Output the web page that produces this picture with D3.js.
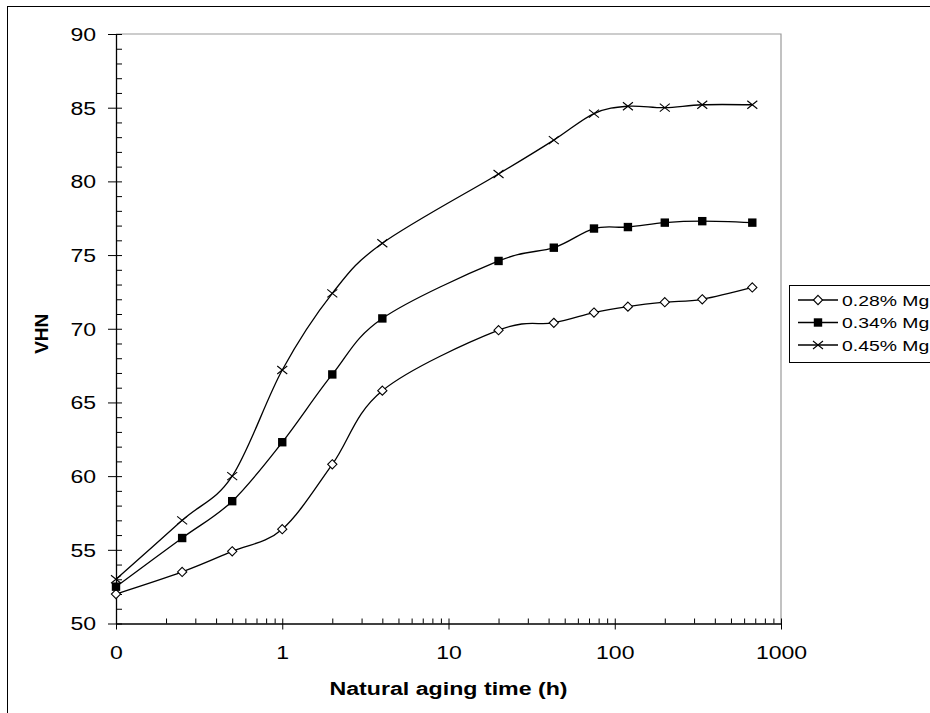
<!DOCTYPE html>
<html>
<head>
<meta charset="utf-8">
<script src="https://cdn.jsdelivr.net/npm/d3@7"></script>
<style>
  html, body { margin: 0; padding: 0; background: #fff; }
  svg { display: block; font-family: "Liberation Sans", Arial, sans-serif; }
</style>
</head>
<body>
<svg id="chart" width="930" height="713"></svg>
<script>
// Aging times in hours (the first reading, at 0 h, sits at the left end of the log axis)
const agingTimes = [0.1, 0.25, 0.5, 1, 2, 4, 20, 43, 75, 120, 200, 336, 672];

// Vickers hardness for each alloy
const vhn028 = [52.0, 53.5, 54.9, 56.4, 60.8, 65.8, 69.9, 70.4, 71.1, 71.5, 71.8, 72.0, 72.8];
const vhn034 = [52.5, 55.8, 58.3, 62.3, 66.9, 70.7, 74.6, 75.5, 76.8, 76.9, 77.2, 77.3, 77.2];
const vhn045 = [53.0, 57.0, 60.0, 67.2, 72.4, 75.8, 80.5, 82.8, 84.6, 85.1, 85.0, 85.2, 85.2];

const seriesNames = ["0.28% Mg", "0.34% Mg", "0.45% Mg"];
const markerKinds = ["diamond", "square", "cross"];

const xTickValues = [0.1, 1, 10, 100, 1000];
const xTickLabels = ["0", "1", "10", "100", "1000"];
const yTickValues = [50, 55, 60, 65, 70, 75, 80, 85, 90];

const series = [vhn028, vhn034, vhn045].map((vals, i) => ({
  name: seriesNames[i],
  marker: markerKinds[i],
  points: agingTimes.map((t, j) => ({ t, v: vals[j] }))
}));

const svg = d3.select("#chart");

// Outer chart frame
svg.append("rect")
  .attr("x", 7.5).attr("y", 6.5)
  .attr("width", 1000).attr("height", 1000)
  .attr("fill", "none").attr("stroke", "#000").attr("stroke-width", 1);

const plot = { left: 116, right: 781, top: 34, bottom: 623.5 };

const x = d3.scaleLog().domain([0.1, 1000]).range([plot.left, plot.right]);
const y = d3.scaleLinear().domain([50, 90]).range([plot.bottom, plot.top]);

// Plot-area frame: grey top and right edges
svg.append("path")
  .attr("d", `M${plot.left},${plot.top}H${plot.right}V${plot.bottom}`)
  .attr("fill", "none").attr("stroke", "#9a9a9a").attr("stroke-width", 1.2);

// Minor ticks
const xMinor = [];
for (let dec = 0.1; dec < 1000; dec *= 10) {
  for (let k = 2; k <= 9; k++) xMinor.push(+(dec * k).toPrecision(3));
}
const yMinor = d3.range(50, 91).filter(v => v % 5 !== 0);

svg.append("g")
  .attr("transform", `translate(0,${plot.bottom})`)
  .call(d3.axisBottom(x).tickValues(xMinor).tickSize(-5).tickFormat(""))
  .call(g => g.select(".domain").remove())
  .call(g => g.selectAll("line").attr("stroke", "#000"));

svg.append("g")
  .attr("transform", `translate(${plot.left},0)`)
  .call(d3.axisLeft(y).tickValues(yMinor).tickSize(-6).tickFormat(""))
  .call(g => g.select(".domain").remove())
  .call(g => g.selectAll("line").attr("stroke", "#000"));

// Major axes
const xAxis = svg.append("g")
  .attr("transform", `translate(0,${plot.bottom})`)
  .call(d3.axisBottom(x).tickValues(xTickValues)
    .tickFormat((d, i) => xTickLabels[i]).tickSizeOuter(0));
xAxis.select(".domain").attr("stroke", "#000").attr("stroke-width", 1.3);
xAxis.selectAll(".tick line").attr("y1", -5).attr("y2", 6).attr("stroke", "#000");
xAxis.selectAll(".tick text")
  .attr("y", 0).attr("dy", 0)
  .attr("transform", "translate(0,35) scale(1.28,1)")
  .attr("font-size", 18).attr("font-family", "Liberation Sans, Arial, sans-serif")
  .attr("fill", "#000");

const yAxis = svg.append("g")
  .attr("transform", `translate(${plot.left},0)`)
  .call(d3.axisLeft(y).tickValues(yTickValues).tickSizeOuter(0));
yAxis.select(".domain").attr("stroke", "#000").attr("stroke-width", 1.3);
yAxis.selectAll(".tick line").attr("x1", -8).attr("x2", 6).attr("stroke", "#000");
yAxis.selectAll(".tick text")
  .attr("x", 0).attr("dy", "0.36em")
  .attr("transform", "translate(-20,0) scale(1.28,1)")
  .attr("font-size", 18).attr("font-family", "Liberation Sans, Arial, sans-serif")
  .attr("fill", "#000");

// Axis titles
svg.append("text")
  .attr("transform", `translate(${(plot.left + plot.right) / 2},695) scale(1.22,1)`)
  .attr("text-anchor", "middle")
  .attr("font-size", 19).attr("font-weight", "bold")
  .text("Natural aging time (h)");

svg.append("text")
  .attr("transform", `translate(48,${(plot.top + plot.bottom) / 2 + 5}) rotate(-90)`)
  .attr("text-anchor", "middle")
  .attr("font-size", 19).attr("font-weight", "bold")
  .text("VHN");

// Marker drawing
function drawMarker(sel, kind) {
  if (kind === "diamond") {
    sel.append("path").attr("d", "M0,-4.6L4.6,0L0,4.6L-4.6,0Z")
      .attr("fill", "#fff").attr("stroke", "#000").attr("stroke-width", 1.1);
  } else if (kind === "square") {
    sel.append("rect").attr("x", -4.2).attr("y", -4.2).attr("width", 8.4).attr("height", 8.4)
      .attr("fill", "#000");
  } else {
    sel.append("path").attr("d", "M-5,-4L5,4M-5,4L5,-4")
      .attr("fill", "none").attr("stroke", "#000").attr("stroke-width", 1.1);
  }
}

// Smoothed series lines
const line = d3.line()
  .x(d => x(d.t)).y(d => y(d.v))
  .curve(d3.curveCatmullRom.alpha(0));

series.forEach(s => {
  svg.append("path")
    .datum(s.points)
    .attr("d", line)
    .attr("fill", "none").attr("stroke", "#000").attr("stroke-width", 1.3);
});

series.forEach(s => {
  svg.append("g").selectAll("g")
    .data(s.points)
    .join("g")
    .attr("transform", d => `translate(${x(d.t)},${y(d.v)})`)
    .each(function () { drawMarker(d3.select(this), s.marker); });
});

// Legend
const legend = svg.append("g");
legend.append("rect")
  .attr("x", 789.5).attr("y", 285.5).attr("width", 160).attr("height", 77)
  .attr("fill", "#fff").attr("stroke", "#000").attr("stroke-width", 1);

series.forEach((s, i) => {
  const cy = 300 + i * 22.5;
  const row = legend.append("g");
  row.append("line")
    .attr("x1", 798).attr("x2", 838).attr("y1", cy).attr("y2", cy)
    .attr("stroke", "#000").attr("stroke-width", 1.3);
  drawMarker(row.append("g").attr("transform", `translate(818,${cy})`), s.marker);
  row.append("text")
    .attr("transform", `translate(842,${cy}) scale(1.25,1)`)
    .attr("dy", "0.36em")
    .attr("font-size", 15.5)
    .text(s.name);
});
</script>
</body>
</html>
